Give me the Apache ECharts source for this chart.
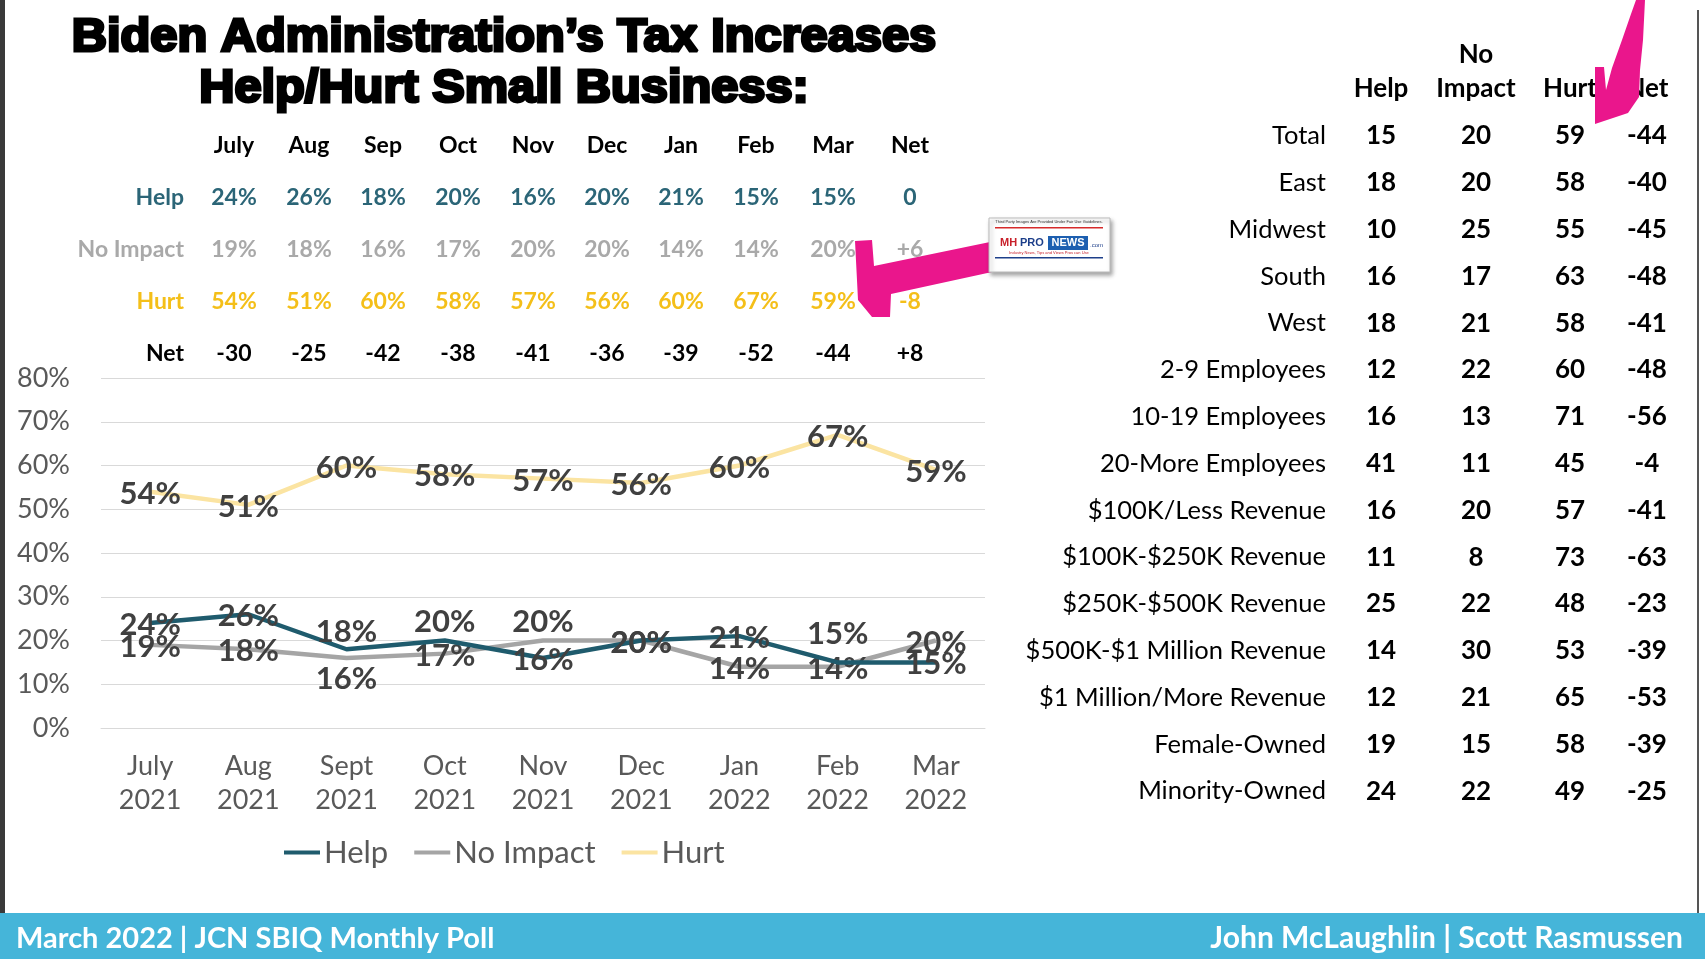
<!DOCTYPE html>
<html>
<head>
<meta charset="utf-8">
<script src="https://cdn.jsdelivr.net/npm/echarts@6.0.0/dist/echarts.min.js"></script>
<style>
html,body{margin:0;padding:0;background:#fff;}
#main{width:1705px;height:959px;}
</style>
</head>
<body>
<div id="main"></div>
<script>
// ---------- data ----------
var categories = ['July\n2021','Aug\n2021','Sept\n2021','Oct\n2021','Nov\n2021','Dec\n2021','Jan\n2022','Feb\n2022','Mar\n2022'];
var helpValues = [24, 26, 18, 20, 16, 20, 21, 15, 15];
var noImpactValues = [19, 18, 16, 17, 20, 20, 14, 14, 20];
var hurtValues = [54, 51, 60, 58, 57, 56, 60, 67, 59];
var netValues = [-30, -25, -42, -38, -41, -36, -39, -52, -44];
var monthHeaders = ['July','Aug','Sep','Oct','Nov','Dec','Jan','Feb','Mar','Net'];
var netColumn = ['0', '+6', '-8', '+8'];
var yTicks = [0, 10, 20, 30, 40, 50, 60, 70, 80];

var segments = ['Total','East','Midwest','South','West','2-9 Employees','10-19 Employees','20-More Employees','$100K/Less Revenue','$100K-$250K Revenue','$250K-$500K Revenue','$500K-$1 Million Revenue','$1 Million/More Revenue','Female-Owned','Minority-Owned'];
var segHelp = [15, 18, 10, 16, 18, 12, 16, 41, 16, 11, 25, 14, 12, 19, 24];
var segNoImpact = [20, 20, 25, 17, 21, 22, 13, 11, 20, 8, 22, 30, 21, 15, 22];
var segHurt = [59, 58, 55, 63, 58, 60, 71, 45, 57, 73, 48, 53, 65, 58, 49];
var segNet = [-44, -40, -45, -48, -41, -48, -56, -4, -41, -63, -23, -39, -53, -39, -25];

// ---------- styles ----------
var FONT = 'Lato, "Open Sans", sans-serif';
var C_HELP = '#1f5b6d', C_NI = '#a5a5a5', C_HURT = '#fbe4a2';
var T_HELP = '#2b6577', T_NI = '#a9a9a9', T_HURT = '#f4bf19';
var PINK = '#ea168c';

// label placement tweaks (style only)
var helpLabelPos = {2: ['top', 4], 3: ['top', 2], 7: ['top', -7]};
var niLabelPos = {2: ['bottom', 0], 4: ['top', 2]};

function buildSeriesData(values, posMap) {
  return values.map(function (v, i) {
    var p = posMap[i];
    if (!p) return {value: v, label: {position: 'inside', offset: [0, 2]}};
    return {value: v, label: {position: p[0], offset: [0, p[1]]}};
  });
}

var graphics = [];
// borders
graphics.push({type: 'rect', shape: {x: 0, y: 0, width: 5, height: 959}, style: {fill: '#3a3a3a'}, z: 1});
graphics.push({type: 'rect', shape: {x: 1697, y: 10, width: 2, height: 903}, style: {fill: '#555'}, z: 1});
// title
var titleLines = ['Biden Administration\u2019s Tax Increases', 'Help/Hurt Small Business:'];
titleLines.forEach(function (t, i) {
  graphics.push({
    type: 'text', x: 504, y: 38 + i * 51, scaleX: 1.06, originX: 0, originY: 0,
    style: {text: t, font: '900 46px "Liberation Sans", Arial, sans-serif', fill: '#000',
      align: 'center', verticalAlign: 'middle', stroke: '#000', lineWidth: 3,
      shadowColor: 'rgba(0,0,0,0.35)', shadowOffsetX: 2, shadowOffsetY: 3, shadowBlur: 3}
  });
});

// top table
var colX = [234, 309, 383, 458, 533, 607, 681, 756, 833, 910];
var rowY = [146, 198, 250, 302, 354];
var rowNames = ['Help', 'No Impact', 'Hurt', 'Net'];
var rowColors = [T_HELP, T_NI, T_HURT, '#000'];
var rowVals = [helpValues, noImpactValues, hurtValues, netValues];
var TF = 'bold 23px ' + FONT;
monthHeaders.forEach(function (m, j) {
  graphics.push({type: 'text', x: colX[j], y: rowY[0], style: {text: m, font: TF, fill: '#000', align: 'center', verticalAlign: 'middle'}});
});
rowNames.forEach(function (r, i) {
  graphics.push({type: 'text', x: 184, y: rowY[i + 1], style: {text: r, font: TF, fill: rowColors[i], align: 'right', verticalAlign: 'middle'}});
  rowVals[i].forEach(function (v, j) {
    var s = i < 3 ? v + '%' : String(v);
    graphics.push({type: 'text', x: colX[j], y: rowY[i + 1], style: {text: s, font: TF, fill: rowColors[i], align: 'center', verticalAlign: 'middle'}});
  });
  graphics.push({type: 'text', x: colX[9], y: rowY[i + 1], style: {text: netColumn[i], font: TF, fill: rowColors[i], align: 'center', verticalAlign: 'middle'}});
});

// right table
var rColX = [1381, 1476, 1570, 1647];
var RF = '25.5px ' + FONT, RFB = 'bold 26px ' + FONT;
graphics.push({type: 'text', x: rColX[1], y: 55, style: {text: 'No', font: RFB, fill: '#000', align: 'center', verticalAlign: 'middle'}});
['Help', 'Impact', 'Hurt', 'Net'].forEach(function (h, j) {
  graphics.push({type: 'text', x: rColX[j], y: 89, style: {text: h, font: RFB, fill: '#000', align: 'center', verticalAlign: 'middle'}});
});
segments.forEach(function (s, i) {
  var y = 136 + i * 46.8;
  graphics.push({type: 'text', x: 1326, y: y, style: {text: s, font: RF, fill: '#000', align: 'right', verticalAlign: 'middle'}});
  [segHelp[i], segNoImpact[i], segHurt[i], segNet[i]].forEach(function (v, j) {
    graphics.push({type: 'text', x: rColX[j], y: y, style: {text: String(v), font: RFB, fill: '#000', align: 'center', verticalAlign: 'middle'}});
  });
});

// footer
graphics.push({type: 'rect', shape: {x: 0, y: 913, width: 1705, height: 46}, style: {fill: '#45b5d9'}, z: 2});
graphics.push({type: 'text', x: 16, y: 939, z: 3, style: {text: 'March 2022 | JCN SBIQ Monthly Poll', font: 'bold 29px ' + FONT, fill: '#fff', align: 'left', verticalAlign: 'middle'}});
graphics.push({type: 'text', x: 1683, y: 938, z: 3, style: {text: 'John McLaughlin | Scott Rasmussen', font: 'bold 30px ' + FONT, fill: '#fff', align: 'right', verticalAlign: 'middle'}});

// pink annotations
graphics.push({type: 'polygon', z: 20, shape: {points: [[1636,0],[1645,0],[1643,40],[1640,70],[1639,97],[1628,113],[1604,121],[1595,124],[1595,67],[1604,67],[1606,90],[1612,68],[1622,40],[1631,14]]}, style: {fill: PINK}});
graphics.push({type: 'polygon', z: 20, shape: {points: [[855,241],[872,240],[874,266],[990,242],[992,272],[891,294],[890,317],[872,317],[858,300]]}, style: {fill: PINK}});
// logo
graphics.push({type: 'rect', z: 21, shape: {x: 989, y: 218, width: 121, height: 54}, style: {fill: '#fff', stroke: '#bbb', lineWidth: 1, shadowColor: 'rgba(0,0,0,0.35)', shadowBlur: 4, shadowOffsetX: 2, shadowOffsetY: 3}});
graphics.push({type: 'text', z: 22, x: 1049, y: 222, style: {text: 'Third Party Images Are Provided Under Fair Use Guidelines.', font: '4px sans-serif', fill: '#333', align: 'center', verticalAlign: 'middle'}});
graphics.push({type: 'rect', z: 22, shape: {x: 995, y: 227, width: 108, height: 1.5}, style: {fill: '#d62a2a'}});
graphics.push({type: 'text', z: 22, x: 1000, y: 243, style: {text: 'MH', font: 'bold 11px sans-serif', fill: '#c8202a', align: 'left', verticalAlign: 'middle'}});
graphics.push({type: 'text', z: 22, x: 1020, y: 243, style: {text: 'PRO', font: 'bold 11px sans-serif', fill: '#1d3f8a', align: 'left', verticalAlign: 'middle'}});
graphics.push({type: 'rect', z: 22, shape: {x: 1048, y: 236, width: 40, height: 14}, style: {fill: '#1d5fb0'}});
graphics.push({type: 'text', z: 23, x: 1068, y: 243, style: {text: 'NEWS', font: 'bold 11px sans-serif', fill: '#fff', align: 'center', verticalAlign: 'middle'}});
graphics.push({type: 'text', z: 22, x: 1090, y: 245, style: {text: '.com', font: '6px sans-serif', fill: '#1d3f8a', align: 'left', verticalAlign: 'middle'}});
graphics.push({type: 'text', z: 22, x: 1049, y: 253, style: {text: 'Industry News, Tips and Views Pros can Use', font: '4px sans-serif', fill: '#c8202a', align: 'center', verticalAlign: 'middle'}});
graphics.push({type: 'rect', z: 22, shape: {x: 995, y: 257, width: 108, height: 1.5}, style: {fill: '#1d3f8a'}});

var labelStyle = {show: true, formatter: '{c}%', fontFamily: FONT, fontWeight: 'bold', fontSize: 31, color: '#404040'};

function lineSeries(name, values, posMap, color, z) {
  return {
    name: name, type: 'line', data: buildSeriesData(values, posMap),
    symbol: 'circle', symbolSize: 1, showSymbol: true,
    lineStyle: {color: color, width: 4.5}, itemStyle: {color: color},
    label: labelStyle, z: z, emphasis: {disabled: true}
  };
}

var option = {
  animation: false,
  backgroundColor: '#fff',
  grid: {left: 101, right: 720, top: 378, bottom: 231},
  legend: {
    left: 279, top: 832, icon: 'rect', itemWidth: 36, itemHeight: 4, itemGap: 26,
    textStyle: {fontFamily: FONT, fontSize: 31, color: '#595959', padding: [0, 0, 0, -1]},
    data: ['Help', 'No Impact', 'Hurt']
  },
  xAxis: {
    type: 'category', data: categories, boundaryGap: true,
    axisLine: {lineStyle: {color: '#d9d9d9', width: 1}},
    axisTick: {show: false},
    axisLabel: {fontFamily: FONT, fontSize: 27, color: '#595959', lineHeight: 34, margin: 21}
  },
  yAxis: {
    type: 'value', min: yTicks[0], max: yTicks[yTicks.length - 1], interval: 10,
    axisLine: {show: false}, axisTick: {show: false},
    splitLine: {lineStyle: {color: '#d9d9d9', width: 1}},
    axisLabel: {formatter: '{value}%', fontFamily: FONT, fontSize: 27, color: '#595959', margin: 31}
  },
  series: [
    lineSeries('Help', helpValues, helpLabelPos, C_HELP, 3),
    lineSeries('No Impact', noImpactValues, niLabelPos, C_NI, 2),
    lineSeries('Hurt', hurtValues, {}, C_HURT, 2)
  ],
  graphic: graphics
};

var chart = echarts.init(document.getElementById('main'), null, {renderer: 'canvas'});
chart.setOption(option);
</script>
</body>
</html>
